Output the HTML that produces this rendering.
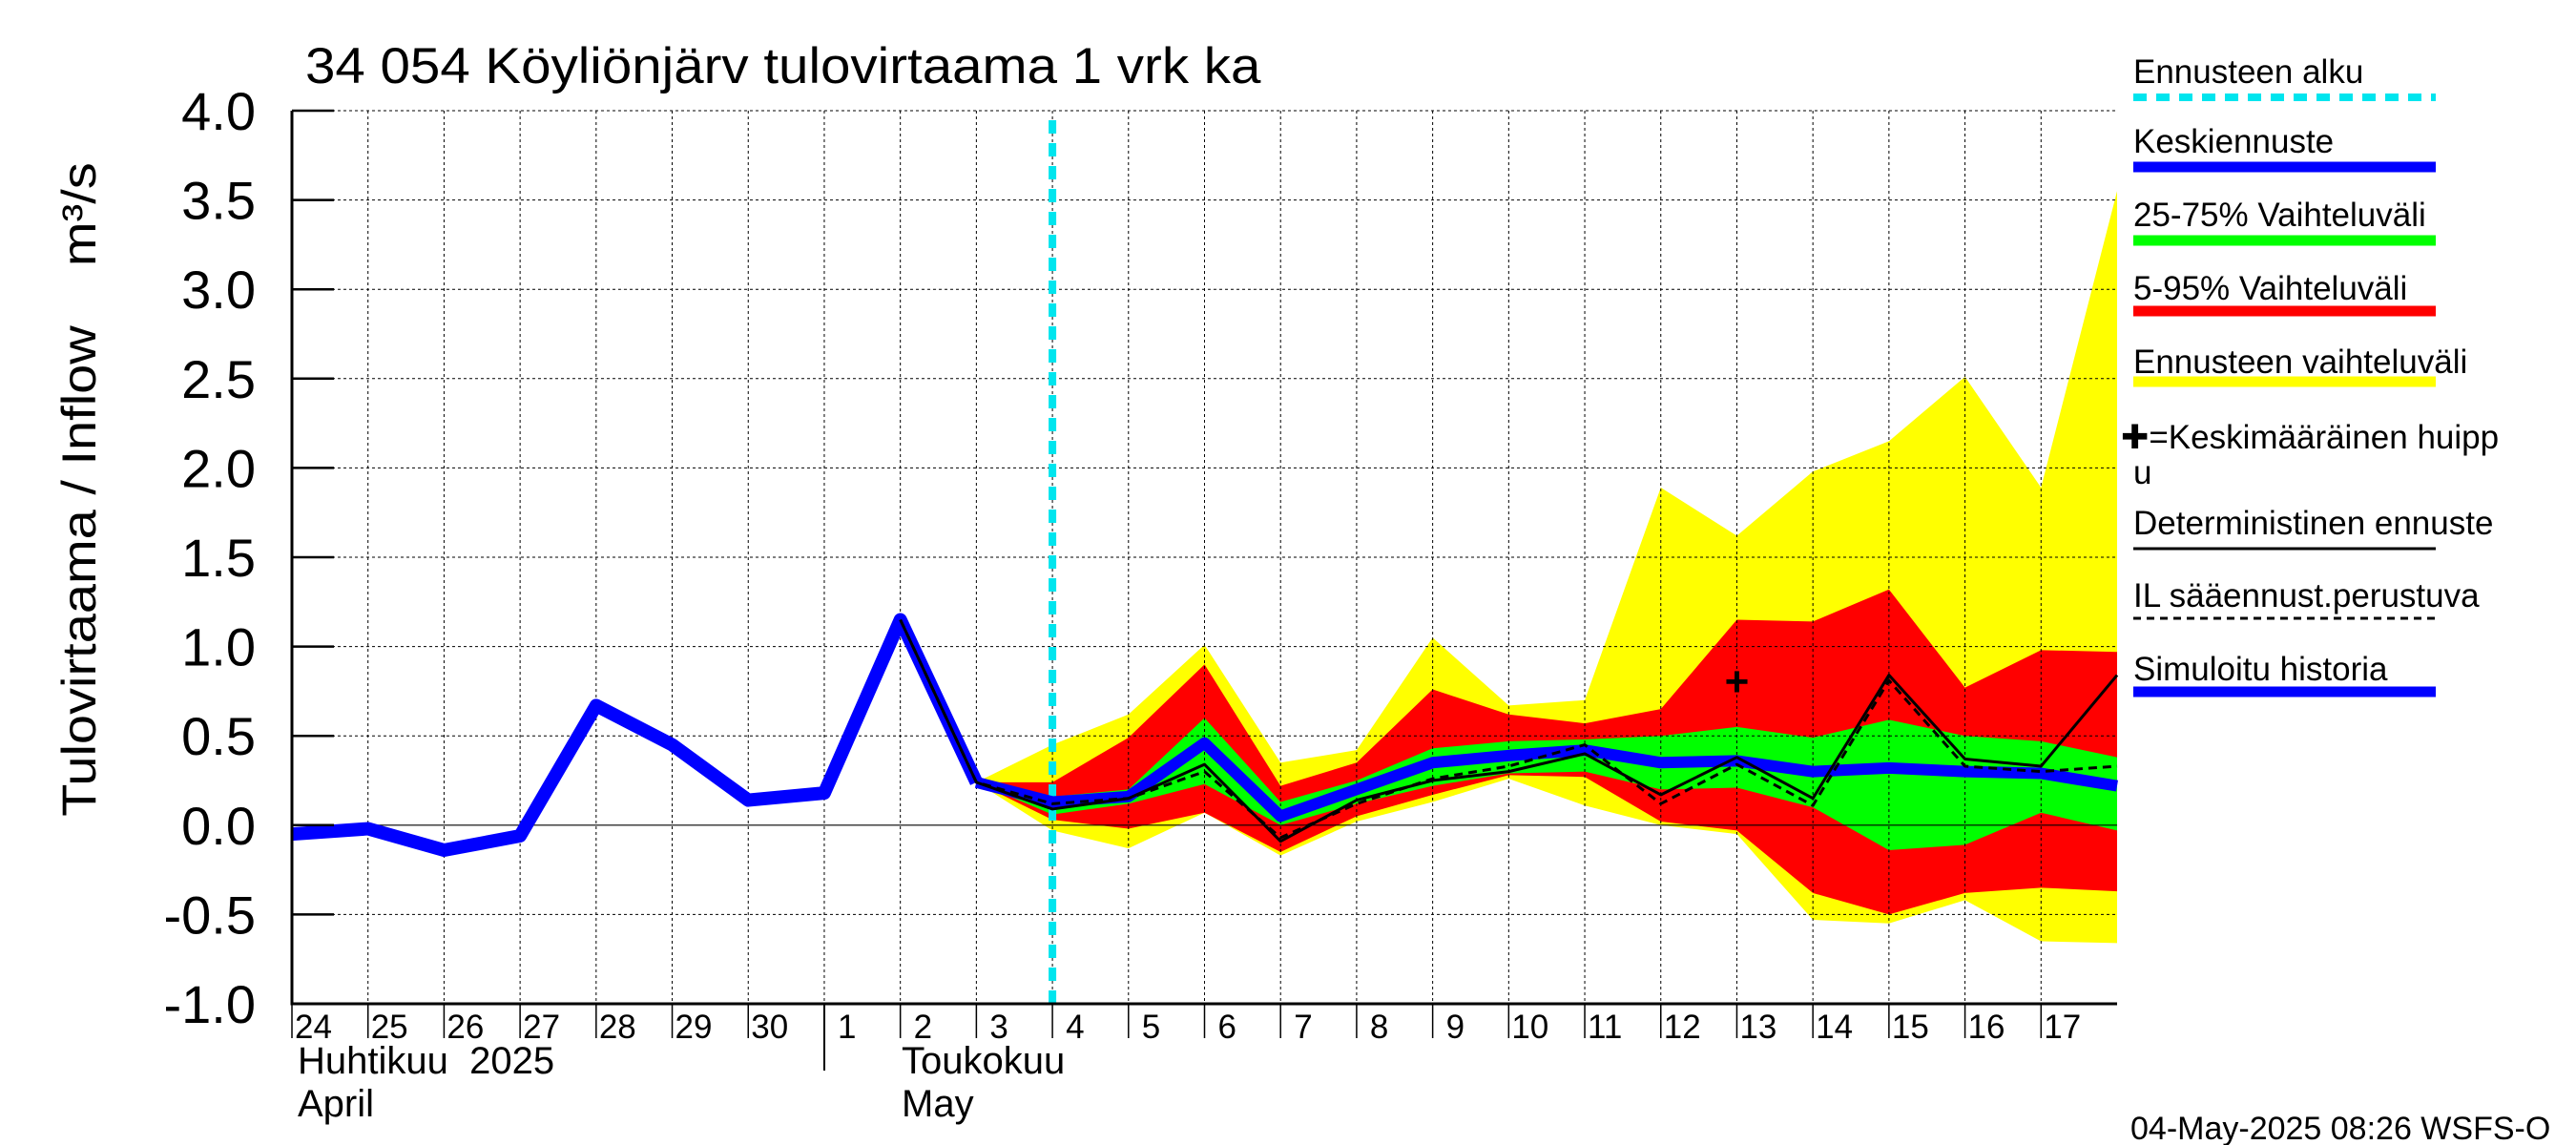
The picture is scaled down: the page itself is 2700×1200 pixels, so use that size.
<!DOCTYPE html>
<html><head><meta charset="utf-8"><style>
html,body{margin:0;padding:0;background:#fff}
svg{display:block;font-family:"Liberation Sans",sans-serif}
</style></head><body>
<svg id="chart" width="2700" height="1200" viewBox="0 0 2700 1200" xmlns="http://www.w3.org/2000/svg">
<g id="bands"></g>
<g id="grid"></g>
<g id="lines"></g>
<g id="axes"></g>
<text x="320" y="87" font-size="50" transform="translate(320,87) scale(1.13,1.05) translate(-320,-87)">34 054 Köyliönjärv tulovirtaama 1 vrk ka</text>
<text transform="translate(100,513) rotate(-90) scale(1.12,1)" text-anchor="middle" font-size="50" xml:space="preserve" style="white-space:pre">Tulovirtaama / Inflow    m³/s</text>
<text x="312" y="1125" font-size="40" xml:space="preserve" style="white-space:pre">Huhtikuu  2025</text>
<text x="312" y="1170" font-size="40">April</text>
<text x="945" y="1125" font-size="40">Toukokuu</text>
<text x="945" y="1170" font-size="40">May</text>
<line x1="864" y1="1052" x2="864" y2="1122" stroke="#000" stroke-width="2"/>
<text x="2233" y="1194" font-size="34">04-May-2025 08:26 WSFS-O</text>
<g id="legend"></g>
</svg>
<script>
const NS="http://www.w3.org/2000/svg";
// data: index 0 = 24 April, daily
const dayLabels=["24","25","26","27","28","29","30","1","2","3","4","5","6","7","8","9","10","11","12","13","14","15","16","17"];
const yTicks=[-1.0,-0.5,0.0,0.5,1.0,1.5,2.0,2.5,3.0,3.5,4.0];
const yTickLabels=["-1.0","-0.5","0.0","0.5","1.0","1.5","2.0","2.5","3.0","3.5","4.0"];
const history=[-0.05,-0.02,-0.14,-0.06,0.67,0.45,0.14,0.18,1.15,0.24];
const median=[0.24,0.13,0.16,0.46,0.05,0.2,0.35,0.39,0.42,0.35,0.36,0.30,0.32,0.30,0.29,0.22];
const bandStart=9;
const yellowHi=[0.24,0.45,0.62,1.01,0.35,0.42,1.05,0.67,0.70,1.89,1.62,1.98,2.15,2.51,1.89,3.55];
const yellowLo=[0.24,-0.03,-0.13,0.07,-0.17,0.02,0.13,0.26,0.11,0.0,-0.05,-0.53,-0.55,-0.42,-0.65,-0.66];
const redHi=[0.24,0.24,0.49,0.90,0.22,0.35,0.76,0.62,0.57,0.65,1.15,1.14,1.32,0.77,0.98,0.97];
const redLo=[0.24,0.03,-0.02,0.07,-0.15,0.05,0.17,0.28,0.27,0.02,-0.03,-0.38,-0.50,-0.38,-0.35,-0.37];
const greenHi=[0.24,0.16,0.20,0.60,0.13,0.25,0.43,0.47,0.48,0.50,0.55,0.49,0.59,0.50,0.47,0.38];
const greenLo=[0.24,0.06,0.12,0.23,0.0,0.12,0.22,0.29,0.30,0.20,0.21,0.10,-0.14,-0.11,0.07,-0.03];
const detStart=8;
const deterministic=[1.15,0.24,0.09,0.15,0.34,-0.09,0.14,0.25,0.30,0.40,0.17,0.38,0.15,0.84,0.37,0.33,0.84];
const ilForecast=[1.15,0.24,0.12,0.15,0.30,-0.07,0.12,0.26,0.33,0.45,0.12,0.34,0.11,0.81,0.33,0.30,0.33];
const forecastStartIdx=10;
const peakIdx=19, peakVal=0.80;

const L=306,R=2219,T=116,B=1052,nDays=24;
const x=i=>L+(R-L)*i/nDays;
const y=v=>B-(B-T)*(v+1)/5;
function el(tag,attrs,parent){const e=document.createElementNS(NS,tag);for(const k in attrs)e.setAttribute(k,attrs[k]);parent.appendChild(e);return e;}
const bands=document.getElementById('bands'),grid=document.getElementById('grid'),lines=document.getElementById('lines'),axes=document.getElementById('axes'),legend=document.getElementById('legend');
function bandPath(hi,lo){let p=hi.map((v,i)=>(i?'L':'M')+x(bandStart+i)+','+y(v)).join(' ');for(let i=lo.length-1;i>=0;i--)p+=' L'+x(bandStart+i)+','+y(lo[i]);return p+' Z';}
const b1=el('path',{d:bandPath(yellowHi,yellowLo),fill:'#ffff00'},bands);


const b2=el('path',{d:bandPath(redHi,redLo),fill:'#ff0000'},bands);


const b3=el('path',{d:bandPath(greenHi,greenLo),fill:'#00ff00'},bands);


// grid
for(let i=1;i<nDays;i++){const g=el('line',{x1:x(i),y1:T,x2:x(i),y2:B,stroke:'#000','stroke-width':1,'stroke-dasharray':'3,3'},grid);

}
yTicks.forEach(v=>{if(v===0){const z=el('line',{x1:L,y1:y(0),x2:R,y2:y(0),stroke:'#000','stroke-width':1.2},grid);return;}
const g=el('line',{x1:L,y1:y(v),x2:R,y2:y(v),stroke:'#000','stroke-width':1,'stroke-dasharray':'3,3'},grid);

});
// forecast start
const fs=el('line',{x1:x(forecastStartIdx),y1:T+10,x2:x(forecastStartIdx),y2:B,stroke:'#00e5ee','stroke-width':8,'stroke-dasharray':'14,10'},lines);


function poly(arr,start,attrs,name){const p=arr.map((v,i)=>x(start+i)+','+y(v)).join(' ');const e=el('polyline',Object.assign({points:p,fill:'none','stroke-linejoin':'round'},attrs),lines);return e;}
poly(history,0,{stroke:'#0000ff','stroke-width':14},'simulated-history-line');
poly(median,bandStart,{stroke:'#0000ff','stroke-width':12},'median-forecast-line');
poly(deterministic,detStart,{stroke:'#000','stroke-width':3},'deterministic-forecast-line');
poly(ilForecast,detStart,{stroke:'#000','stroke-width':3,'stroke-dasharray':'9,6'},'il-forecast-line');
const pk=el('text',{x:x(peakIdx),y:y(peakVal)+14,'text-anchor':'middle','font-size':44,'font-weight':'bold'},lines);pk.textContent='+';


// axes
const ax=el('path',{d:`M${L},${T} L${L},${B} L${R},${B}`,fill:'none',stroke:'#000','stroke-width':3},axes);


yTicks.forEach((v,i)=>{const t=el('line',{x1:L,y1:y(v),x2:L+44,y2:y(v),stroke:'#000','stroke-width':2.5},axes);


const tl=el('text',{x:268,y:y(v)+20,'text-anchor':'end','font-size':56},axes);tl.textContent=yTickLabels[i];

});
dayLabels.forEach((d,i)=>{const t=el('line',{x1:x(i),y1:B,x2:x(i),y2:B+36,stroke:'#000','stroke-width':1.5},axes);


const tl=el('text',{x:x(i)+(d.length>1?3:14),y:1088,'font-size':35},axes);tl.textContent=d;

});
// legend
const LX=2236,LX2=2553;
const items=[["Ennusteen alku",87,102,'#00e5ee',8,'14,10'],["Keskiennuste",160,175,'#0000ff',11,null],["25-75% Vaihteluväli",237,252,'#00ff00',11,null],["5-95% Vaihteluväli",314,326,'#ff0000',11,null],["Ennusteen vaihteluväli",391,400,'#ffff00',11,null],["Deterministinen ennuste",560,575,'#000',3,null],["IL sääennust.perustuva",636,648,'#000',3,'8,6'],["Simuloitu historia",713,725,'#0000ff',11,null]];
items.forEach(it=>{const t=el('text',{x:LX,y:it[1],'font-size':35},legend);t.textContent=it[0];


const a={x1:LX,y1:it[2],x2:LX2,y2:it[2],stroke:it[3],'stroke-width':it[4]};if(it[5])a['stroke-dasharray']=it[5];
const ln=el('line',a,legend);

});
const pt=el('text',{x:2223,y:470,'font-size':35},legend);pt.textContent='✚=Keskimääräinen huipp';


const pu=el('text',{x:2236,y:507,'font-size':35},legend);pu.textContent='u';


</script>
</body></html>
